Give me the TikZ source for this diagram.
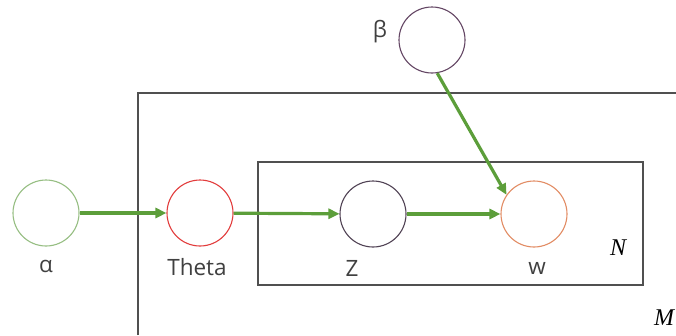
\documentclass[tikz,border=0pt]{standalone}
\usepackage{fontspec}
\setmainfont{Liberation Serif}
\newfontfamily\labelfont{Open Sans}
\usetikzlibrary{arrows.meta}
\definecolor{edgegreen}{RGB}{92,158,58}
\definecolor{alphacol}{RGB}{150,190,130}
\definecolor{thetacol}{RGB}{226,60,60}
\definecolor{zcol}{RGB}{80,66,84}
\definecolor{wcol}{RGB}{226,140,100}
\definecolor{betacol}{RGB}{100,70,100}
\definecolor{platecol}{RGB}{80,80,80}
\tikzset{
  var/.style={circle, draw, line width=1.1pt, minimum size=66pt, inner sep=0pt, fill=white},
  lbl/.style={text=black!75, font=\labelfont\fontsize{22.5}{24}\selectfont, inner sep=0pt},
  platelbl/.style={font=\itshape\fontsize{24}{26}\selectfont, inner sep=0pt},
  plate/.style={draw=platecol, line width=1.3pt},
  edge/.style={draw=edgegreen, line width=3.2pt, -{Triangle[length=11pt,width=10pt]}}
}
\begin{document}
\begin{tikzpicture}[x=1pt, y=-1pt]
  \useasboundingbox (0,0) rectangle (676,335);
  % outer plate M (runs off the right and bottom edges)
  \draw[plate] (138,335) -- (138,93) -- (676,93);
  % inner plate N
  \draw[plate] (258,162) rectangle (643,285);
  % variables
  \node[var, draw=alphacol] (alpha) at (46,213) {};
  \node[var, draw=thetacol] (theta) at (200,213) {};
  \node[var, draw=zcol] (z) at (373,214) {};
  \node[var, draw=wcol] (w) at (534,214) {};
  \node[var, draw=betacol] (beta) at (432,40) {};
  % labels
  \node[lbl] (lalpha) at (46,266) {α};
  \node[lbl] (ltheta) at (197,267) {Theta};
  \node[lbl] (lz) at (352,268) {Z};
  \node[lbl] (lw) at (537,268) {w};
  \node[lbl] (lbeta) at (380,32) {β};
  \node[platelbl] (lN) at (618,248) {N};
  \node[platelbl] (lM) at (664,318) {M};
  % dependencies
  \draw[edge] (alpha) -- (theta);
  \draw[edge] (theta) -- (z);
  \draw[edge] (z) -- (w);
  \draw[edge] (beta.-81) -- (w.145);
\end{tikzpicture}
\end{document}
